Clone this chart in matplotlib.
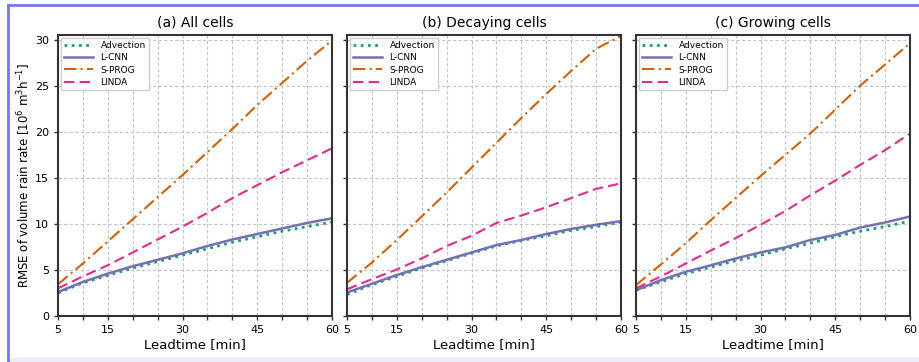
import matplotlib
matplotlib.use("Agg")
import matplotlib.pyplot as plt
from matplotlib.lines import Line2D
from matplotlib.patches import Rectangle

leadtimes = [5, 10, 15, 20, 25, 30, 35, 40, 45, 50, 55, 60]
panel_titles = ["(a) All cells", "(b) Decaying cells", "(c) Growing cells"]
methods = ["Advection", "L-CNN", "S-PROG", "LINDA"]

# RMSE values, one list per panel
advection = [
    [2.5, 3.6, 4.4, 5.2, 5.9, 6.6, 7.3, 8.0, 8.6, 9.2, 9.7, 10.2],
    [2.35, 3.4, 4.3, 5.2, 6.0, 6.8, 7.6, 8.2, 8.7, 9.3, 9.7, 10.2],
    [2.8, 3.7, 4.6, 5.3, 6.0, 6.6, 7.3, 7.9, 8.6, 9.2, 9.7, 10.3],
]
lcnn = [
    [2.6, 3.7, 4.6, 5.4, 6.1, 6.8, 7.6, 8.3, 8.9, 9.5, 10.1, 10.6],
    [2.55, 3.5, 4.45, 5.3, 6.1, 6.9, 7.7, 8.25, 8.9, 9.45, 9.9, 10.3],
    [2.8, 3.9, 4.8, 5.5, 6.25, 6.9, 7.45, 8.25, 8.8, 9.6, 10.15, 10.8],
]
sprog = [
    [3.45, 5.7, 8.1, 10.5, 12.9, 15.3, 17.8, 20.3, 22.9, 25.3, 27.7, 29.9],
    [3.6, 5.8, 8.25, 10.8, 13.4, 16.1, 18.8, 21.5, 24.1, 26.6, 29.0, 30.4],
    [3.35, 5.6, 7.9, 10.4, 12.8, 15.2, 17.5, 19.8, 22.4, 25.0, 27.3, 29.6],
]
linda = [
    [3.0, 4.3, 5.5, 6.9, 8.3, 9.7, 11.2, 12.8, 14.2, 15.6, 16.9, 18.2],
    [2.9, 4.0, 5.05, 6.25, 7.6, 8.7, 10.1, 10.9, 11.8, 12.8, 13.8, 14.4],
    [3.0, 4.3, 5.7, 7.1, 8.45, 9.9, 11.4, 13.1, 14.7, 16.4, 18.0, 19.8],
]

colors = ["#1b9e77", "#7570b3", "#d95f02", "#e7298a"]
styles = [(0, (1, 1.6)), "-", (0, (6, 2, 1, 2)), (0, (5, 2.5))]
widths = [2.0, 1.8, 1.5, 1.5]

fig = plt.figure(figsize=(9.19, 3.62), dpi=100)

lefts = [58 / 919, 347 / 919, 636 / 919]
ax_w = 274 / 919
ax_b = (362 - 316) / 362
ax_h = (316 - 35) / 362

for i in range(3):
    ax = fig.add_axes([lefts[i], ax_b, ax_w, ax_h])
    series = [advection[i], lcnn[i], sprog[i], linda[i]]
    for name, vals, c, ls, lw in zip(methods, series, colors, styles, widths):
        ax.plot(leadtimes, vals, color=c, linestyle=ls, linewidth=lw, label=name)
    ax.set_xlim(5, 60)
    ax.set_ylim(0, 30.5)
    ax.set_xticks(list(range(5, 61, 5)))
    ax.set_xticklabels(["5" if t == 5 else (str(t) if t % 15 == 0 else "") for t in range(5, 61, 5)])
    ax.set_yticks([0, 5, 10, 15, 20, 25, 30])
    if i > 0:
        ax.set_yticklabels([])
    ax.grid(True, linestyle=(0, (3, 2)), color="#c4c4c4", linewidth=0.8)
    ax.tick_params(labelsize=8, length=3, width=1, color="#333333")
    for s in ax.spines.values():
        s.set_linewidth(1.5)
        s.set_color("#333333")
    ax.set_title(panel_titles[i], fontsize=10)
    ax.set_xlabel("Leadtime [min]", fontsize=9.5, labelpad=2)
    if i == 0:
        ax.set_ylabel("RMSE of volume rain rate [$10^6$ m$^3$h$^{-1}$]", fontsize=8.5, labelpad=1)
    ax.legend(loc="upper left", fontsize=6.5, handlelength=3.2, borderaxespad=0.3,
              labelspacing=0.35, framealpha=1, fancybox=False, edgecolor="#cccccc")

# screenshot frame
fig.add_artist(Line2D([7.5 / 919, 7.5 / 919], [0, 1 - 4.5 / 362], color="#7777ee", linewidth=2))
fig.add_artist(Line2D([7.5 / 919, 1], [1 - 4.5 / 362, 1 - 4.5 / 362], color="#7777ee", linewidth=2))
fig.add_artist(Rectangle((8 / 919, 0), 1, 4 / 362, transform=fig.transFigure, color="#ececf8", zorder=-1))

fig.savefig("out.png", dpi=100)
